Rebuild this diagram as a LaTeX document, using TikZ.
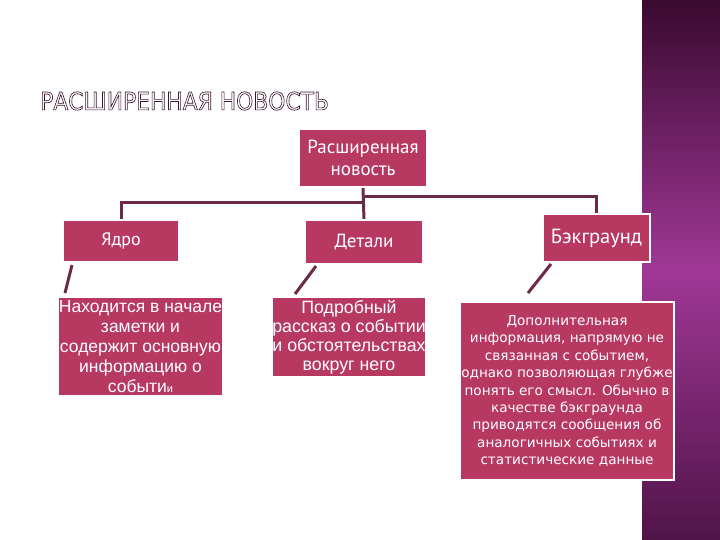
\documentclass[tikz,border=0pt]{standalone}
\usepackage{fontspec}
\setmainfont{Liberation Sans}
\newfontfamily\ptsans{PT Sans}
\newfontfamily\dvsans{DejaVu Sans}
\usetikzlibrary{calc}
\definecolor{boxc}{RGB}{183,57,97}
\definecolor{connc}{RGB}{110,40,72}
\definecolor{titc}{RGB}{60,20,48}
\definecolor{stript}{RGB}{58,10,48}
\definecolor{stripm}{RGB}{160,55,150}
\definecolor{stripb}{RGB}{80,20,72}
\pgfdeclarelayer{bg}
\pgfsetlayers{bg,main}
\newcommand{\outlinetext}[1]{\special{pdf:literal direct 1 Tr 0.6 w}#1\special{pdf:literal direct 0 Tr}}
\tikzset{
  box/.style={rectangle, fill=boxc, draw=white, line width=2.5pt, text=white, align=center, inner sep=0pt, outer sep=0pt},
  conn/.style={draw=connc, line width=3pt},
}
\begin{document}
\begin{tikzpicture}[x=1pt,y=-1pt]
\useasboundingbox (0,0) rectangle (720,540);
% title
\node[anchor=west, inner sep=0pt, text=titc, yscale=1.12, font=\dvsans\fontsize{21.8}{24}\selectfont] (title) at (40,101) {\outlinetext{РАСШИРЕННАЯ НОВОСТЬ}};
% boxes
\node[box, minimum width=128pt, minimum height=58pt, font=\ptsans\fontsize{19}{22}\selectfont] (top) at (363,158) {Расширенная\\новость};
\node[box, minimum width=116pt, minimum height=42pt, font=\ptsans\fontsize{18}{20}\selectfont] (yadro) at (121,241) {Ядро};
\node[box, minimum width=118pt, minimum height=44pt, font=\ptsans\fontsize{19}{20}\selectfont] (detali) at (364,242) {Детали};
\node[box, minimum width=107pt, minimum height=48pt, font=\ptsans\fontsize{20.5}{22}\selectfont] (bgr) at (596.5,238) {Бэкграунд};
\node[box, minimum width=165pt, minimum height=99pt, font=\fontsize{17.5}{20}\selectfont] (n1) at (140.5,346.5) {Находится в начале\\заметки и\\содержит основную\\информацию о\\событи{\fontsize{11}{20}\selectfont и}};
\node[box, minimum width=154pt, minimum height=80pt, font=\fontsize{17.8}{19}\selectfont] (n2) at (349,337) {Подробный\\рассказ о событии\\и обстоятельствах\\вокруг него};
\node[box, minimum width=214pt, minimum height=178pt, font=\dvsans\fontsize{13.6}{17.4}\selectfont] (n3) at (567,391) {Дополнительная\\информация, напрямую не\\связанная с событием,\\однако позволяющая глубже\\понять его смысл. Обычно в\\качестве бэкграунда\\приводятся сообщения об\\аналогичных событиях и\\статистические данные};
% connectors
\coordinate (jl) at (363,203);
\coordinate (jr) at (363,197);
\begin{pgfonlayer}{bg}
\fill[white] (0,0) rectangle (720,540);
\shade[top color=stript, bottom color=stripb, middle color=stripm] (642,0) rectangle (720,540);
\draw[conn] (top.south) -- (detali.north);
\draw[conn] (jl) -| (yadro.north);
\draw[conn] (jr) -| (bgr.north);
\end{pgfonlayer}
\draw[conn] ($(yadro.south west)+(9,3)$) -- ($(n1.north west)+(7,-4)$);
\draw[conn] ($(detali.south west)+(11,2)$) -- ($(n2.north west)+(23,-3)$);
\draw[conn] ($(bgr.south west)+(8,2)$) -- ($(n3.north west)+(68,-9)$);
\end{tikzpicture}
\end{document}
